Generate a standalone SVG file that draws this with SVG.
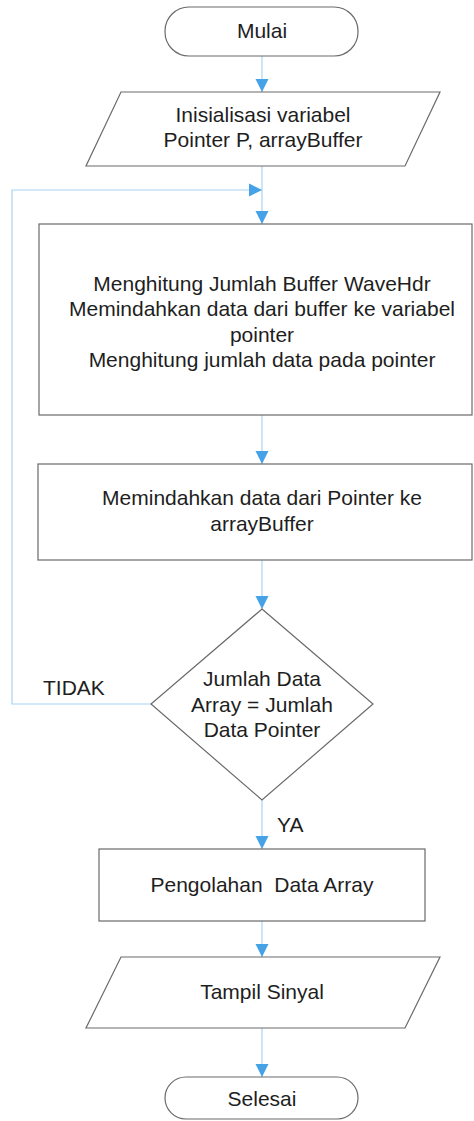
<svg xmlns="http://www.w3.org/2000/svg" width="474" height="1121" viewBox="0 0 474 1121">
  <style>
    .shape { fill: #ffffff; stroke: #6a6a6a; stroke-width: 1.2; }
    .link { fill: none; stroke: #a9d4f2; stroke-width: 1.2; }
    .label { font-family: "Liberation Sans", Arial, sans-serif; font-size: 21px; fill: #1e1e1e; text-anchor: middle; }
    .side { font-family: "Liberation Sans", Arial, sans-serif; font-size: 21px; fill: #1e1e1e; }
  </style>
  <defs>
    <marker id="arrow" markerUnits="userSpaceOnUse" markerWidth="14" markerHeight="14" viewBox="0 0 14 14" refX="13" refY="7" orient="auto">
      <path d="M0,0.5 L13,7 L0,13.5 Z" fill="#46a2e6"/>
    </marker>
  </defs>

  <rect width="474" height="1121" fill="#ffffff"/>

  <!-- connectors -->
  <g id="connectors">
    <path class="link" d="M262,56 V92" marker-end="url(#arrow)"/>
    <path class="link" d="M262,166 V224" marker-end="url(#arrow)"/>
    <path class="link" d="M151,704 H12 V190 H262" marker-end="url(#arrow)"/>
    <path class="link" d="M262,415 V464" marker-end="url(#arrow)"/>
    <path class="link" d="M262,560 V609" marker-end="url(#arrow)"/>
    <path class="link" d="M262,800 V849" marker-end="url(#arrow)"/>
    <path class="link" d="M262,921 V957" marker-end="url(#arrow)"/>
    <path class="link" d="M262,1028 V1077" marker-end="url(#arrow)"/>
    <text class="side" x="43" y="695">TIDAK</text>
    <text class="side" x="277" y="832">YA</text>
  </g>

  <!-- start -->
  <g id="start">
    <rect class="shape" x="165" y="7" width="193" height="49" rx="24" ry="24"/>
    <text class="label" x="262" y="38">Mulai</text>
  </g>

  <!-- initialisation input -->
  <g id="init">
    <polygon class="shape" points="121,92 440,92 405,166 86,166"/>
    <text class="label" x="263" y="122">Inisialisasi variabel</text>
    <text class="label" x="263" y="147">Pointer P, arrayBuffer</text>
  </g>

  <!-- buffer processing -->
  <g id="count-buffer">
    <rect class="shape" x="39" y="224" width="433" height="191"/>
    <text class="label" x="262" y="291">Menghitung Jumlah Buffer WaveHdr</text>
    <text class="label" x="262" y="316">Memindahkan data dari buffer ke variabel</text>
    <text class="label" x="262" y="342">pointer</text>
    <text class="label" x="262" y="367">Menghitung jumlah data pada pointer</text>
  </g>

  <!-- copy to array -->
  <g id="copy-array">
    <rect class="shape" x="38" y="464" width="434" height="96"/>
    <text class="label" x="262" y="505">Memindahkan data dari Pointer ke</text>
    <text class="label" x="262" y="531">arrayBuffer</text>
  </g>

  <!-- decision -->
  <g id="check">
    <polygon class="shape" points="262,609 373,704 262,800 151,704"/>
    <text class="label" x="262" y="686">Jumlah Data</text>
    <text class="label" x="262" y="712">Array = Jumlah</text>
    <text class="label" x="262" y="737">Data Pointer</text>
  </g>

  <!-- process array -->
  <g id="process">
    <rect class="shape" x="99" y="849" width="326" height="72"/>
    <text class="label" x="262" y="892">Pengolahan&#160; Data Array</text>
  </g>

  <!-- output -->
  <g id="show">
    <polygon class="shape" points="121,957 440,957 405,1028 86,1028"/>
    <text class="label" x="262" y="999">Tampil Sinyal</text>
  </g>

  <!-- end -->
  <g id="end">
    <rect class="shape" x="165" y="1077" width="193" height="42" rx="21" ry="21"/>
    <text class="label" x="262" y="1106">Selesai</text>
  </g>
</svg>
